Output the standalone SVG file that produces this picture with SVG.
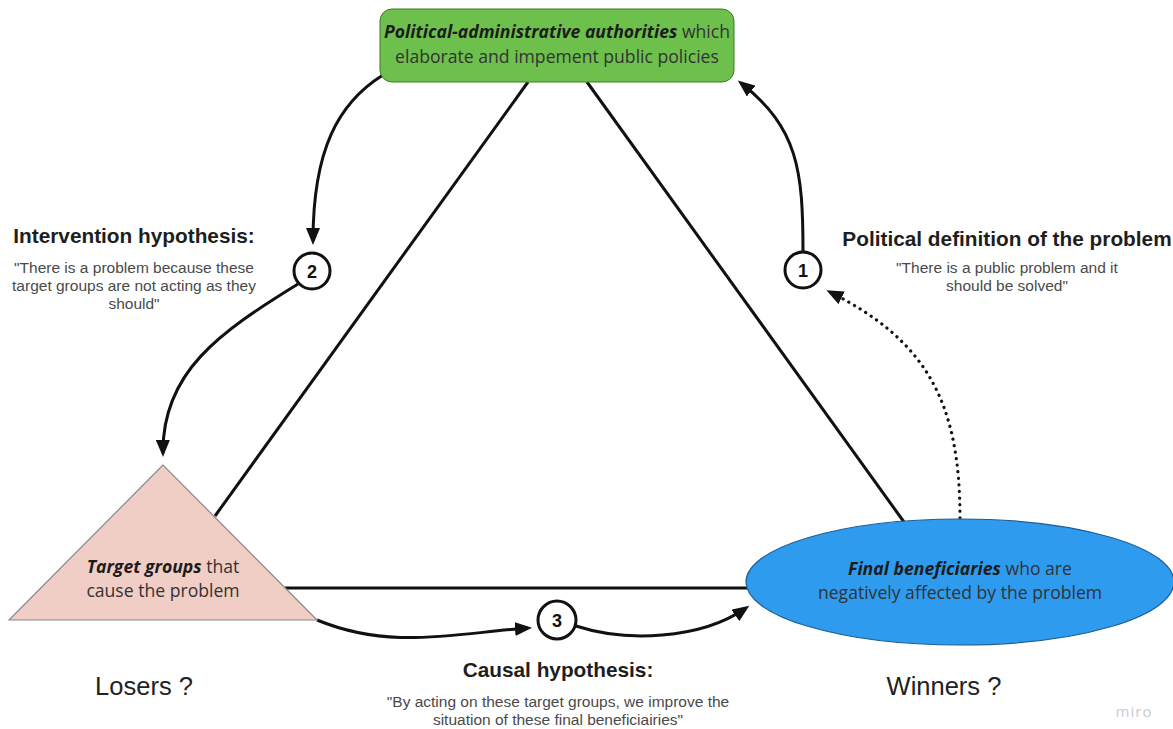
<svg xmlns="http://www.w3.org/2000/svg" width="1173" height="729" viewBox="0 0 1173 729">
  <defs>
    <marker id="head" markerUnits="userSpaceOnUse" markerWidth="17" markerHeight="14" viewBox="0 0 17 14" refX="13" refY="7" orient="auto">
      <path d="M0,0 L17,7 L0,14 z" fill="#111"/>
    </marker>
    <style>
      .edge { fill: none; stroke: #111; stroke-width: 3; }
      .link { fill: none; stroke: #111; stroke-width: 3; }
      .dots { fill: none; stroke: #111; stroke-width: 3.2; stroke-dasharray: 0.1 6.5; stroke-linecap: round; }
      .badge { fill: #fff; stroke: #111; stroke-width: 3; }
      .num { font-family: "Liberation Sans", Arial, sans-serif; font-weight: 700; font-size: 18px; fill: #111; text-anchor: middle; }
      .node { font-family: "Open Sans", "Noto Sans", sans-serif; font-size: 17.6px; fill: #333; text-anchor: middle; }
      .node .em { font-weight: 700; font-style: italic; fill: #1c1c1c; }
      .title { font-family: "Liberation Sans", Arial, sans-serif; font-weight: 700; font-size: 20.8px; fill: #1e1e1e; text-anchor: middle; }
      .quote { font-family: "Liberation Sans", Arial, sans-serif; font-size: 15.5px; fill: #4a4a4a; text-anchor: middle; }
      .side { font-family: "Liberation Sans", Arial, sans-serif; font-size: 25.5px; fill: #222; text-anchor: middle; }
    </style>
  </defs>

  <rect width="1173" height="729" fill="#fff"/>

  <!-- straight links between the three actors -->
  <g id="connectors">
    <line class="link" x1="528" y1="82" x2="215" y2="516"/>
    <line class="link" x1="587" y1="82" x2="904" y2="522"/>
    <line class="link" x1="285" y1="588" x2="750" y2="588"/>

    <!-- authorities -> step 2 -->
    <path class="edge" d="M383,75 C338,103 313,150 313,241" marker-end="url(#head)"/>
    <!-- step 2 -> target groups -->
    <path class="edge" d="M298,284 C220,332 162,372 163,453" marker-end="url(#head)"/>
    <!-- step 1 -> authorities -->
    <path class="edge" d="M803,252 C803,170 798,128 741,83" marker-end="url(#head)"/>
    <!-- beneficiaries -> step 1 (dotted) -->
    <path class="dots" d="M960,518 C960,400 925,340 830,292" marker-end="url(#head)"/>
    <!-- target groups -> step 3 -->
    <path class="edge" d="M317,620 C390,650 450,634 528,628" marker-end="url(#head)"/>
    <!-- step 3 -> beneficiaries -->
    <path class="edge" d="M576,626 C625,642 700,640 746,608" marker-end="url(#head)"/>
  </g>

  <g id="authorities">
    <rect x="380" y="9" width="354" height="73" rx="12" fill="#6dc04c" stroke="#3f7a2a" stroke-width="1"/>
    <text class="node" x="557" y="38"><tspan class="em">Political-administrative authorities</tspan> which</text>
    <text class="node" x="557" y="63">elaborate and impement public policies</text>
  </g>

  <g id="target-groups">
    <polygon points="163,465 9,620 317,620" fill="#f0cdc5" stroke="#8a8a8a" stroke-width="1.2"/>
    <text class="node" x="163" y="573"><tspan class="em">Target groups</tspan> that</text>
    <text class="node" x="163" y="597">cause the problem</text>
  </g>

  <g id="beneficiaries">
    <ellipse cx="960" cy="582" rx="214" ry="63" fill="#2e9bef" stroke="#1c5f94" stroke-width="1.2"/>
    <text class="node" x="960" y="575"><tspan class="em">Final beneficiaries</tspan> who are</text>
    <text class="node" x="960" y="599">negatively affected by the problem</text>
  </g>

  <g id="step-1">
    <circle class="badge" cx="803" cy="270" r="18"/>
    <text class="num" x="803" y="277">1</text>
  </g>
  <g id="step-2">
    <circle class="badge" cx="312" cy="271" r="18"/>
    <text class="num" x="312" y="278">2</text>
  </g>
  <g id="step-3">
    <circle class="badge" cx="557" cy="620" r="19"/>
    <text class="num" x="557" y="627">3</text>
  </g>

  <g id="intervention-hypothesis">
    <text class="title" x="134" y="243">Intervention hypothesis:</text>
    <text class="quote" x="134" y="273">"There is a problem because these</text>
    <text class="quote" x="134" y="291">target groups are not acting as they</text>
    <text class="quote" x="134" y="309">should"</text>
  </g>

  <g id="political-definition">
    <text class="title" x="1007" y="246">Political definition of the problem</text>
    <text class="quote" x="1007" y="273">"There is a public problem and it</text>
    <text class="quote" x="1007" y="291">should be solved"</text>
  </g>

  <g id="causal-hypothesis">
    <text class="title" x="558" y="677">Causal hypothesis:</text>
    <text class="quote" x="558" y="707">"By acting on these target groups, we improve the</text>
    <text class="quote" x="558" y="725">situation of these final beneficiairies"</text>
  </g>

  <text class="side" x="144" y="695">Losers ?</text>
  <text class="side" x="944" y="695">Winners ?</text>

  <text x="1134" y="717" font-family="Open Sans, sans-serif" font-size="15" fill="#c9cad3" text-anchor="middle" letter-spacing="1">miro</text>
</svg>
